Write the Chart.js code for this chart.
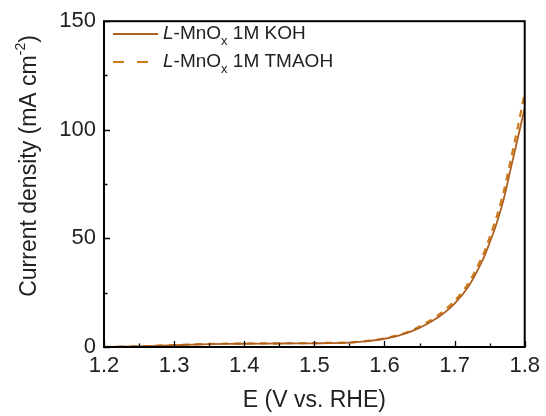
<!DOCTYPE html>
<html><head><meta charset="utf-8">
<script src="https://cdn.jsdelivr.net/npm/chart.js@4/dist/chart.umd.min.js"></script>
<style>html,body{margin:0;padding:0;background:#fff}#wrap{width:546px;height:416px;position:relative}</style>
</head><body><div id="wrap"><canvas id="c" width="546" height="416"></canvas></div>
<script>
const potential = [1.20,1.25,1.30,1.35,1.40,1.45,1.50,1.55,1.58,1.60,1.62,1.64,1.66,1.68,1.70,1.72,1.74,1.75,1.76,1.77,1.78,1.79,1.80];
const kohCurrent = [0,0.3,0.8,1.3,1.5,1.6,1.7,2.0,2.8,3.8,5.2,7.4,10.5,14.5,20,28,40,48,57,68,82,96,110];
const tmaohCurrent = [0,0.3,0.9,1.4,1.6,1.7,1.8,2.1,2.9,4.0,5.5,7.8,11.2,15.5,21.2,29.5,42,50.5,60,71.5,86,101,117];
const seriesNames = ["KOH","TMAOH"];
const xTicks = [1.2,1.3,1.4,1.5,1.6,1.7,1.8];
const yTicks = [0,50,100,150];
const xMinor = [1.25,1.35,1.45,1.55,1.65,1.75];
const yMinor = [25,75,125];
const colSolid = '#b0601e', colDash = '#cc7a1a';
const FONT = '"Liberation Sans", Arial, sans-serif';

function pts(ys){return potential.map((x,i)=>({x:x,y:ys[i]}));}

const frame = {
  id:'frame',
  afterDraw(chart){
    const ctx=chart.ctx, a=chart.chartArea, xs=chart.scales.x, ys=chart.scales.y;
    ctx.save();
    ctx.strokeStyle='#000'; ctx.lineWidth=2;
    ctx.strokeRect(a.left,a.top,a.right-a.left,a.bottom-a.top);
    ctx.lineWidth=1.3;
    ctx.beginPath();
    xTicks.forEach(v=>{const p=Math.round(xs.getPixelForValue(v))+0.5;ctx.moveTo(p,a.bottom);ctx.lineTo(p,a.bottom-6);});
    xMinor.forEach(v=>{const p=Math.round(xs.getPixelForValue(v))+0.5;ctx.moveTo(p,a.bottom);ctx.lineTo(p,a.bottom-3.5);});
    yTicks.forEach(v=>{const p=Math.round(ys.getPixelForValue(v))+0.5;ctx.moveTo(a.left,p);ctx.lineTo(a.left+6,p);});
    yMinor.forEach(v=>{const p=Math.round(ys.getPixelForValue(v))+0.5;ctx.moveTo(a.left,p);ctx.lineTo(a.left+3.5,p);});
    ctx.stroke();
    // y title with superscript
    ctx.fillStyle='#222';
    ctx.translate(30,166);
    ctx.rotate(-Math.PI/2);
    const main='Current density (mA cm', sup='-2', end=')';
    ctx.font='23px '+FONT;
    const w1=ctx.measureText(main).width, w3=ctx.measureText(end).width;
    ctx.font='14px '+FONT;
    const w2=ctx.measureText(sup).width;
    let x0=-(w1+w2+w3)/2;
    ctx.textBaseline='middle';
    ctx.font='23px '+FONT; ctx.fillText(main,x0,0);
    ctx.font='14px '+FONT; ctx.fillText(sup,x0+w1,-9);
    ctx.font='23px '+FONT; ctx.fillText(end,x0+w1+w2,0);
    ctx.restore();
    // legend
    ctx.save();
    const names=[seriesNames[0],seriesNames[1]];
    const rows=[{y:34,dash:[],col:colSolid},{y:62,dash:[11,13],col:colDash}];
    rows.forEach((r,i)=>{
      ctx.strokeStyle=r.col; ctx.lineWidth=2; ctx.setLineDash(r.dash);
      ctx.beginPath(); ctx.moveTo(113,r.y); ctx.lineTo(158,r.y); ctx.stroke();
      ctx.setLineDash([]);
      ctx.fillStyle='#222'; ctx.textBaseline='middle';
      let x=163;
      ctx.font='italic 19px '+FONT; ctx.fillText('L',x,r.y); x+=ctx.measureText('L').width;
      ctx.font='19px '+FONT; ctx.fillText('-MnO',x,r.y); x+=ctx.measureText('-MnO').width;
      ctx.font='13px '+FONT; ctx.fillText('x',x,r.y+7); x+=ctx.measureText('x').width;
      ctx.font='19px '+FONT; ctx.fillText(' 1M '+names[i],x,r.y);
    });
    ctx.restore();
  }
};

new Chart(document.getElementById('c'),{
  type:'scatter',
  data:{datasets:[
    {label:seriesNames[0],data:pts(kohCurrent),showLine:true,borderColor:colSolid,borderWidth:1.8,pointRadius:0,tension:0.3},
    {label:seriesNames[1],data:pts(tmaohCurrent),showLine:true,borderColor:colDash,borderWidth:2.2,borderDash:[7,6],pointRadius:0,tension:0.3}
  ]},
  options:{
    responsive:false,animation:false,
    layout:{padding:{left:0,top:20,right:21,bottom:0}},
    plugins:{legend:{display:false},tooltip:{enabled:false}},
    scales:{
      x:{type:'linear',min:1.2,max:1.8,
        afterFit(s){s.height=69;},
        afterBuildTicks(s){s.ticks=xTicks.map(v=>({value:v}));},
        grid:{display:false,drawTicks:false},border:{display:false},
        ticks:{padding:6,color:'#222',font:{family:FONT,size:22},callback:v=>v.toFixed(1),maxRotation:0,autoSkip:false},
        title:{display:true,text:'E (V vs. RHE)',color:'#222',font:{family:FONT,size:23},padding:{top:0,bottom:2}}},
      y:{type:'linear',min:0,max:150,
        afterFit(s){s.width=104;},
        afterBuildTicks(s){s.ticks=yTicks.map(v=>({value:v}));},
        grid:{display:false,drawTicks:false},border:{display:false},
        ticks:{padding:8,color:'#222',font:{family:FONT,size:22},autoSkip:false}}
    }
  },
  plugins:[frame]
});
</script></body></html>
